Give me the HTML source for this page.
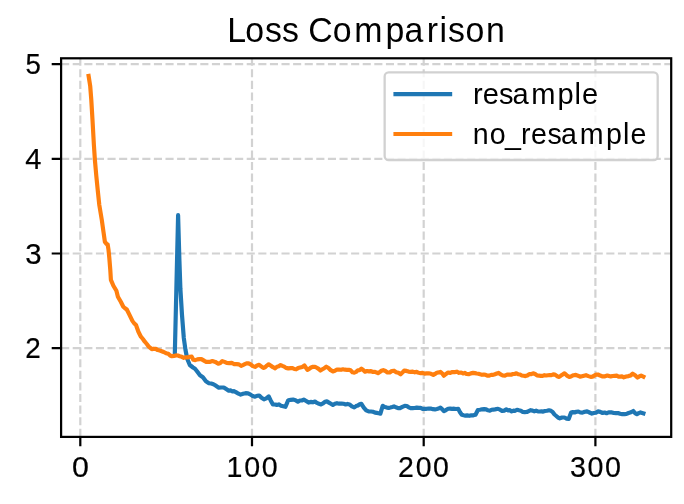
<!DOCTYPE html><html><head><meta charset="utf-8"><title>Loss Comparison</title><style>html,body{margin:0;padding:0;background:#fff;width:684px;height:504px;overflow:hidden}svg{display:block;will-change:transform}text{font-family:"Liberation Sans",sans-serif;fill:#000}</style></head><body>
<svg width="684" height="504" viewBox="0 0 684 504">
<rect x="0" y="0" width="684" height="504" fill="#fff"/>
<path d="M61.10 64.10H671.20 M61.10 158.80H671.20 M61.10 253.50H671.20 M61.10 348.20H671.20 M80.30 436.90V58.30 M252.00 436.90V58.30 M423.70 436.90V58.30 M595.40 436.90V58.30" fill="none" stroke="#d2d2d2" stroke-width="2.2" stroke-dasharray="8.1 3.5"/>
<polyline points="174.8,354.5 178.1,215.2 179.4,260.0 180.4,289.0 182.0,315.0 183.8,338.0 185.5,350.0 187.3,359.0 189.8,365.0 193.0,367.5 195.0,368.8 197.0,371.3 200.0,375.3 202.9,377.3 205.9,381.3 208.9,383.2 211.2,383.5 213.4,384.2 215.2,385.3 217.0,386.5 218.8,387.7 221.3,387.5 223.8,387.5 226.2,389.1 228.7,390.7 230.5,390.4 232.4,391.3 234.2,391.2 236.3,392.4 238.5,393.7 240.6,394.6 243.1,393.7 245.6,393.2 248.1,393.4 250.6,394.6 252.8,396.1 255.0,396.7 257.1,395.8 259.2,395.5 261.5,397.8 263.9,399.3 266.3,398.3 268.7,396.4 270.8,400.7 272.9,404.4 274.9,404.5 276.8,404.9 278.8,404.4 281.0,405.7 283.2,406.2 285.4,406.8 288.3,400.2 290.7,399.8 293.1,399.6 295.5,400.2 297.9,401.7 299.9,400.5 301.8,400.5 303.8,399.6 306.2,401.0 308.6,402.6 310.7,401.9 312.9,402.3 315.0,401.6 317.0,402.9 319.0,403.8 321.0,404.4 323.0,403.4 324.9,401.8 326.9,401.4 328.9,402.6 330.9,403.8 332.9,405.0 334.9,403.8 337.0,403.2 339.2,403.7 341.4,403.5 343.6,403.8 345.6,404.4 347.5,403.9 349.5,404.4 351.9,406.3 354.3,407.4 356.1,406.1 357.9,405.5 359.6,404.3 361.4,403.8 363.8,407.6 366.2,410.4 368.6,411.4 371.0,411.5 373.0,411.8 375.0,412.6 376.8,412.9 378.6,413.2 380.4,413.6 382.7,405.8 384.8,407.0 386.9,407.6 388.7,407.9 390.4,407.5 392.2,407.0 394.0,406.4 396.0,407.3 398.0,408.1 400.0,408.2 402.4,406.9 404.8,405.8 406.8,406.0 408.7,407.3 410.7,408.2 412.7,408.1 414.7,408.0 416.7,407.6 418.7,407.9 420.6,407.8 422.6,408.8 424.6,408.9 426.6,408.8 428.6,408.6 430.7,408.6 432.9,409.2 435.0,409.4 436.8,409.0 438.6,408.5 440.4,407.6 442.1,409.1 443.9,411.2 446.0,410.1 448.1,408.8 450.1,408.6 452.1,408.9 454.2,408.7 456.2,409.0 458.2,408.8 460.0,412.2 461.8,414.8 463.6,415.3 465.3,415.6 467.1,415.4 469.2,415.8 471.3,415.4 473.4,415.3 475.5,414.8 477.9,410.0 480.0,409.7 482.0,409.3 484.1,409.1 486.2,409.4 488.0,410.3 489.8,410.6 491.5,409.8 493.3,409.6 495.0,409.4 498.0,408.8 500.1,409.7 502.1,411.0 504.2,410.6 506.3,409.4 508.1,410.3 509.9,410.2 511.7,411.4 513.5,410.7 515.2,410.8 517.0,409.8 519.0,410.3 520.9,410.7 522.8,411.9 524.8,412.1 526.8,412.0 528.7,411.1 530.7,410.2 532.5,410.6 534.3,411.3 536.1,410.7 537.9,411.4 539.7,411.5 541.5,411.4 543.2,411.6 545.0,411.0 547.0,410.8 549.0,410.3 551.0,410.8 552.8,412.2 554.5,414.5 556.3,416.0 558.0,417.5 559.8,418.3 562.1,417.5 564.5,417.5 566.6,418.6 568.7,418.9 571.1,412.6 572.9,412.1 574.6,412.5 576.4,411.8 578.4,411.5 580.4,412.5 582.4,412.6 584.8,411.7 587.1,411.4 589.5,412.5 591.9,413.6 593.9,413.0 595.9,412.7 597.9,411.4 600.2,411.9 602.6,413.0 604.6,412.5 606.6,413.2 608.6,412.4 611.9,412.4 613.9,413.0 615.9,413.1 617.9,413.0 620.1,413.8 622.2,414.1 624.4,414.2 626.5,413.9 628.6,413.0 631.0,412.3 633.3,411.0 635.1,413.1 636.9,414.2 638.7,413.1 640.5,412.4 643.4,413.3" fill="none" stroke="#1f77b4" stroke-width="4.17" stroke-linejoin="round" stroke-linecap="square"/>
<polyline points="88.6,75.9 90.2,86.0 91.3,100.0 92.5,120.0 93.9,145.0 94.9,160.0 96.3,175.9 97.9,191.7 99.3,205.0 101.8,220.0 103.5,232.0 104.9,241.9 106.5,243.9 107.7,244.6 108.5,249.8 109.3,257.8 110.3,270.0 110.9,279.9 113.4,285.8 116.4,290.8 117.9,296.7 120.8,301.7 123.3,306.7 125.0,308.2 126.8,309.5 129.0,313.9 132.4,320.9 134.2,323.4 135.9,324.8 138.4,331.8 140.9,336.7 142.9,339.0 144.8,341.7 146.8,344.0 148.8,346.7 151.8,349.1 153.8,348.7 155.8,348.9 157.8,350.1 159.7,350.6 161.7,351.2 163.7,352.0 166.0,353.2 168.3,353.8 170.1,355.5 171.9,356.2 173.9,355.9 175.9,355.4 177.9,355.5 179.8,356.2 181.8,356.8 183.8,357.8 185.8,357.4 187.8,357.4 189.8,356.8 191.7,356.6 193.3,359.8 195.3,360.1 197.3,359.4 199.4,359.1 201.4,359.1 204.4,360.9 206.2,361.9 207.9,361.9 210.2,361.8 212.4,361.1 215.3,361.9 218.3,363.7 220.3,363.0 222.3,361.1 224.5,361.9 226.7,362.9 229.2,363.1 231.7,362.9 234.2,364.1 236.7,364.1 238.9,364.4 241.1,365.9 242.9,365.1 244.8,364.2 246.6,363.4 248.6,363.3 250.6,364.4 252.8,366.1 255.0,366.9 257.1,365.5 259.2,364.8 261.2,366.3 263.3,367.9 265.1,367.3 266.9,365.6 268.7,364.3 270.9,365.7 273.0,367.2 275.2,368.3 277.0,366.7 278.8,366.3 280.6,365.1 282.4,365.9 284.2,366.6 286.0,367.9 288.4,368.4 290.7,368.1 292.5,368.1 294.3,369.0 296.1,369.3 298.1,368.1 300.2,367.5 302.3,366.9 304.4,365.5 307.4,369.9 309.2,368.9 311.0,367.5 313.0,366.8 315.0,366.8 316.8,367.8 318.6,368.9 320.4,370.5 322.4,369.3 324.3,368.2 326.3,366.7 328.5,368.0 330.7,370.2 332.9,371.4 334.9,370.8 337.0,369.5 339.0,369.6 341.0,369.8 343.0,369.3 345.0,369.7 346.9,369.8 348.9,369.9 350.7,370.3 352.5,372.3 354.3,372.6 356.1,371.9 357.9,370.3 359.6,370.1 361.4,368.7 363.2,370.0 365.0,371.7 367.0,371.0 369.0,371.4 371.0,371.1 373.0,372.0 375.0,371.8 378.0,373.1 379.8,372.0 381.5,370.8 383.3,370.1 385.4,371.0 387.5,372.5 389.7,372.5 391.8,371.0 394.0,370.7 396.2,372.2 398.4,372.8 400.6,374.3 402.4,372.6 404.2,370.5 406.4,370.9 408.5,371.6 410.7,371.9 412.7,371.6 414.7,372.3 416.7,371.9 418.7,372.8 420.6,373.1 422.6,372.9 424.6,373.6 426.6,373.4 428.6,373.3 431.0,373.8 433.3,374.9 435.0,373.9 436.8,372.7 438.6,372.4 440.4,371.9 442.1,373.3 443.9,375.7 446.0,373.9 448.1,372.5 450.3,372.9 452.4,372.0 454.6,372.1 456.8,371.7 459.0,372.8 461.2,372.5 463.0,373.4 464.7,372.9 466.5,374.0 468.7,374.2 470.9,373.4 473.1,372.9 474.9,373.1 476.6,373.5 478.4,373.7 480.2,374.3 482.0,374.8 483.8,374.5 485.6,374.8 487.4,375.7 489.3,375.6 491.2,374.9 493.1,374.9 495.0,374.2 496.8,373.5 498.6,372.9 500.6,374.4 502.7,375.5 504.9,375.6 507.1,374.6 509.3,374.5 511.1,374.7 512.9,374.0 514.6,374.0 516.4,373.3 518.2,374.3 520.0,374.5 521.8,375.5 523.6,375.8 525.4,376.1 527.3,375.5 529.2,374.2 531.2,374.2 533.1,373.3 535.1,374.0 537.0,375.4 539.0,375.7 540.8,375.8 542.6,375.9 544.4,375.2 546.2,375.5 548.0,375.2 549.7,375.0 551.5,375.1 553.2,374.4 555.0,374.6 557.1,376.2 559.2,376.9 561.0,375.6 562.7,374.5 564.5,373.3 566.9,375.6 569.3,376.9 571.5,376.2 573.6,375.2 575.8,374.9 577.9,375.7 580.0,376.7 582.0,376.2 584.0,375.7 586.0,375.2 588.4,376.1 590.7,376.9 592.5,376.6 594.3,375.6 596.1,374.6 597.9,374.5 600.2,375.6 602.6,376.4 605.0,376.3 607.4,375.5 610.7,376.4 612.7,376.0 614.7,375.8 616.7,375.7 618.5,376.6 620.2,376.6 622.0,376.4 623.8,377.3 626.2,376.5 628.6,376.1 630.7,375.4 632.7,373.7 635.1,375.2 637.5,377.6 639.3,376.4 641.1,375.5 643.4,376.7" fill="none" stroke="#ff7f0e" stroke-width="4.17" stroke-linejoin="round" stroke-linecap="square"/>
<rect x="61.1" y="58.3" width="610.10" height="378.60" fill="none" stroke="#000" stroke-width="2.22" stroke-linejoin="miter"/>
<path d="M80.30 436.90V446.30 M252.00 436.90V446.30 M423.70 436.90V446.30 M595.40 436.90V446.30 M61.10 64.10H51.70 M61.10 158.80H51.70 M61.10 253.50H51.70 M61.10 348.20H51.70" stroke="#000" stroke-width="2.22"/>
<text transform="translate(0,476.50) scale(1.0460,1)" x="68.75" y="0" font-size="29.00" stroke="#000" stroke-width="0.2">0</text>
<text transform="translate(0,476.50) scale(0.9869,1)" x="229.54 247.44 265.19" y="0" font-size="29.00" stroke="#000" stroke-width="0.2">100</text>
<text transform="translate(0,476.50) scale(0.9809,1)" x="405.77 423.84 441.55" y="0" font-size="29.00" stroke="#000" stroke-width="0.2">200</text>
<text transform="translate(0,476.50) scale(0.9892,1)" x="576.17 593.87 611.61" y="0" font-size="29.00" stroke="#000" stroke-width="0.2">300</text>
<text transform="translate(0,74.30) scale(0.9528,1)" x="26.86" y="0" font-size="29.00" stroke="#000" stroke-width="0.2">5</text>
<text transform="translate(0,169.00) scale(1.0059,1)" x="25.08" y="0" font-size="29.00" stroke="#000" stroke-width="0.2">4</text>
<text transform="translate(0,263.70) scale(1.0109,1)" x="24.91" y="0" font-size="29.00" stroke="#000" stroke-width="0.2">3</text>
<text transform="translate(0,358.40) scale(0.9613,1)" x="26.32" y="0" font-size="29.00" stroke="#000" stroke-width="0.2">2</text>
<text transform="translate(0,41.90) scale(0.9820,1)" x="231.38 249.63 269.75 287.16 287.16 313.92 338.86 360.67 392.46 411.84 434.70 447.48 456.26 474.00 494.88" y="0" font-size="34.46">Loss Comparison</text>
<rect x="384.65" y="72.45" width="273.05" height="87.55" rx="4" ry="4" fill="#fff" fill-opacity="0.8" stroke="#cccccc" stroke-opacity="0.9" stroke-width="2.3"/>
<path d="M395.5 94.1H450.1" stroke="#1f77b4" stroke-width="4.17" stroke-linecap="square"/>
<path d="M395.5 134H450.1" stroke="#ff7f0e" stroke-width="4.17" stroke-linecap="square"/>
<text transform="translate(0,103.70) scale(1.0130,1)" x="466.85 476.44 492.71 505.99 524.53 550.30 567.24 574.56" y="0" font-size="28.70">resample</text>
<text transform="translate(0,143.60) scale(0.9945,1)" x="475.30 492.41 507.77 524.01 533.84 550.44 564.02 583.01 609.25 626.45 634.00" y="0" font-size="28.77">no_resample</text>
</svg></body></html>
